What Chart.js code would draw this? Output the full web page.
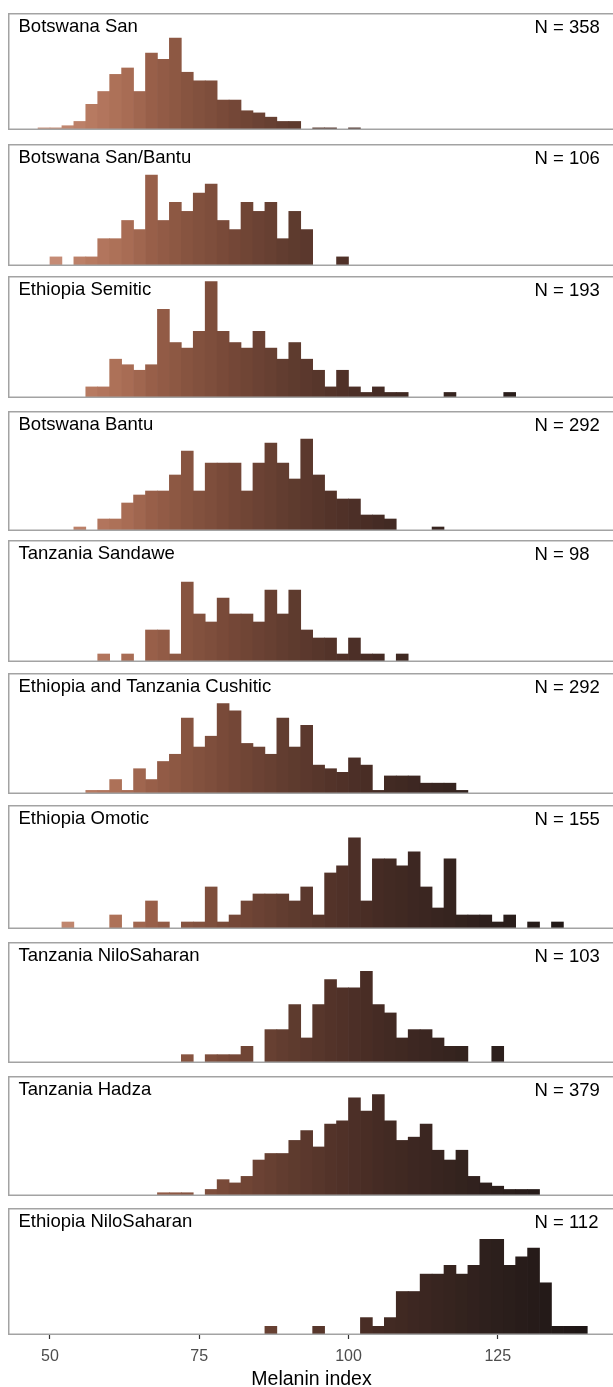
<!DOCTYPE html>
<html>
<head>
<meta charset="utf-8">
<script src="https://cdn.jsdelivr.net/npm/chart.js@4.4.1/dist/chart.umd.min.js"></script>
<style>
  html, body { margin: 0; padding: 0; background: #fff; width: 613px; height: 1387px; overflow: hidden; }
  #fig { position: relative; width: 613px; height: 1387px; overflow: hidden; }
  #fig canvas { position: absolute; left: 8px; }
  .lab {
    position: absolute; white-space: nowrap; color: #000;
    font-family: "Liberation Sans", Arial, sans-serif; font-size: 18.5px; line-height: 1;
  }
</style>
</head>
<body>
<div id="fig"></div>
<script>
// histogram bins (lower edge, width 2)
const binStart = [48, 50, 52, 54, 56, 58, 60, 62, 64, 66,
                  68, 70, 72, 74, 76, 78, 80, 82, 84, 86,
                  88, 90, 92, 94, 96, 98, 100, 102, 104, 106,
                  108, 110, 112, 114, 116, 118, 120, 122, 124, 126,
                  128, 130, 132, 134, 136, 138];

const groups = ['Botswana San', 'Botswana San/Bantu', 'Ethiopia Semitic', 'Botswana Bantu',
                'Tanzania Sandawe', 'Ethiopia and Tanzania Cushitic', 'Ethiopia Omotic',
                'Tanzania NiloSaharan', 'Tanzania Hadza', 'Ethiopia NiloSaharan'];
const sampleSizes = [358, 106, 193, 292, 98, 292, 155, 103, 379, 112];

const botswanaSan = [1, 1, 2, 4, 12, 18, 26, 29, 18, 36,
                     33, 43, 27, 23, 23, 14, 14, 9, 8, 6,
                     4, 4, 0, 1, 1, 0, 1, 0, 0, 0,
                     0, 0, 0, 0, 0, 0, 0, 0, 0, 0,
                     0, 0, 0, 0, 0, 0];
const botswanaSanBantu = [0, 1, 0, 1, 1, 3, 3, 5, 4, 10,
                          5, 7, 6, 8, 9, 5, 4, 7, 6, 7,
                          3, 6, 4, 0, 0, 1, 0, 0, 0, 0,
                          0, 0, 0, 0, 0, 0, 0, 0, 0, 0,
                          0, 0, 0, 0, 0, 0];
const ethiopiaSemitic = [0, 0, 0, 0, 2, 2, 7, 6, 5, 6,
                         16, 10, 9, 12, 21, 12, 10, 9, 12, 9,
                         7, 10, 7, 5, 2, 5, 2, 1, 2, 1,
                         1, 0, 0, 0, 1, 0, 0, 0, 0, 1,
                         0, 0, 0, 0, 0, 0];
const botswanaBantu = [0, 0, 0, 1, 0, 3, 3, 7, 9, 10,
                       10, 14, 20, 10, 17, 17, 17, 10, 17, 22,
                       17, 13, 23, 14, 10, 8, 8, 4, 4, 3,
                       0, 0, 0, 1, 0, 0, 0, 0, 0, 0,
                       0, 0, 0, 0, 0, 0];
const tanzaniaSandawe = [0, 0, 0, 0, 0, 1, 0, 1, 0, 4,
                         4, 1, 10, 6, 5, 8, 6, 6, 5, 9,
                         6, 9, 4, 3, 3, 1, 3, 1, 1, 0,
                         1, 0, 0, 0, 0, 0, 0, 0, 0, 0,
                         0, 0, 0, 0, 0, 0];
const cushitic = [0, 0, 0, 0, 1, 1, 4, 1, 7, 4,
                  9, 11, 21, 13, 16, 25, 23, 14, 13, 11,
                  21, 13, 19, 8, 7, 6, 10, 8, 1, 5,
                  5, 5, 3, 3, 3, 1, 0, 0, 0, 0,
                  0, 0, 0, 0, 0, 0];
const ethiopiaOmotic = [0, 0, 1, 0, 0, 0, 2, 0, 1, 4,
                        1, 0, 1, 1, 6, 1, 2, 4, 5, 5,
                        5, 4, 6, 2, 8, 9, 13, 4, 10, 10,
                        9, 11, 6, 3, 10, 2, 2, 2, 1, 2,
                        0, 1, 0, 1, 0, 0];
const tanzaniaNilo = [0, 0, 0, 0, 0, 0, 0, 0, 0, 0,
                      0, 0, 1, 0, 1, 1, 1, 2, 0, 4,
                      4, 7, 3, 7, 10, 9, 9, 11, 7, 6,
                      3, 4, 4, 3, 2, 2, 0, 0, 2, 0,
                      0, 0, 0, 0, 0, 0];
const tanzaniaHadza = [0, 0, 0, 0, 0, 0, 0, 0, 0, 0,
                       1, 1, 1, 0, 2, 5, 4, 6, 11, 13,
                       13, 17, 20, 15, 22, 23, 30, 26, 31, 23,
                       17, 18, 22, 14, 11, 14, 6, 4, 3, 2,
                       2, 2, 0, 0, 0, 0];
const ethiopiaNilo = [0, 0, 0, 0, 0, 0, 0, 0, 0, 0,
                      0, 0, 0, 0, 0, 0, 0, 0, 0, 1,
                      0, 0, 0, 1, 0, 0, 0, 2, 1, 2,
                      5, 5, 7, 7, 8, 7, 8, 11, 11, 8,
                      9, 10, 6, 1, 1, 1];

const panelCounts = [botswanaSan, botswanaSanBantu, ethiopiaSemitic, botswanaBantu, tanzaniaSandawe,
                     cushitic, ethiopiaOmotic, tanzaniaNilo, tanzaniaHadza, ethiopiaNilo];

// count axis upper limit of each panel (free y scales)
const yMaxCounts = [54.7, 13.4, 22, 30, 15.25, 33.5, 17.7, 14.5, 36.7, 14.6];
const xTicks = [50, 75, 100, 125];
const xMin = 42.97, xMax = 144.64;

// layout
const panelTop = [13, 144, 276, 411, 540, 673, 805, 942, 1076, 1208];
const panelBottom = [130, 266, 398, 531, 662, 794, 929, 1063, 1196, 1335];
const panelWidth = 607;
const axisHeight = 52;
const fontFamily = '"Liberation Sans", Arial, sans-serif';

// fill ramp along melanin index
const rampStops = [
  [49, '#c9917b'], [57, '#b77a61'], [63, '#a86c54'], [67, '#985f49'], [73, '#875440'],
  [81, '#744737'], [89, '#623d30'], [97, '#533329'], [105, '#452b24'], [115, '#382520'],
  [125, '#2c1f1c'], [139, '#1e1615']
];

function hexRgb(h) {
  return [parseInt(h.slice(1, 3), 16), parseInt(h.slice(3, 5), 16), parseInt(h.slice(5, 7), 16)];
}

function colorAt(v) {
  if (v <= rampStops[0][0]) return rampStops[0][1];
  for (let i = 1; i < rampStops.length; i++) {
    if (v <= rampStops[i][0]) {
      const [v0, c0] = rampStops[i - 1];
      const [v1, c1] = rampStops[i];
      const t = (v - v0) / (v1 - v0);
      const a = hexRgb(c0), b = hexRgb(c1);
      const rgb = a.map((x, k) => Math.round(x + (b[k] - x) * t));
      return `rgb(${rgb[0]},${rgb[1]},${rgb[2]})`;
    }
  }
  return rampStops[rampStops.length - 1][1];
}

const panelBorder = {
  id: 'panelBorder',
  afterDraw(chart) {
    const { ctx, chartArea: a } = chart;
    ctx.save();
    ctx.strokeStyle = '#a3a3a3';
    ctx.lineWidth = 1.5;
    ctx.strokeRect(a.left + 0.75, a.top + 0.75, a.right - a.left - 1.5, a.bottom - a.top - 1.5);
    ctx.restore();
  }
};

const fig = document.getElementById('fig');

groups.forEach((name, i) => {
  const isLast = i === groups.length - 1;
  const h = panelBottom[i] - panelTop[i];

  const canvas = document.createElement('canvas');
  canvas.width = panelWidth;
  canvas.height = h + (isLast ? axisHeight : 0);
  canvas.style.top = panelTop[i] + 'px';
  fig.appendChild(canvas);

  new Chart(canvas.getContext('2d'), {
    type: 'bar',
    data: {
      datasets: [{
        data: binStart.map((s, k) => ({ x: s + 1, y: panelCounts[i][k] })),
        backgroundColor: (c) => colorAt(binStart[c.dataIndex] + 1),
        borderWidth: 0,
        barPercentage: 1,
        categoryPercentage: 1
      }]
    },
    options: {
      responsive: false,
      animation: false,
      events: [],
      layout: { padding: 0 },
      plugins: { legend: { display: false }, tooltip: { enabled: false } },
      scales: {
        x: {
          type: 'linear', min: xMin, max: xMax, offset: false,
          display: isLast,
          border: { display: false },
          grid: { offset: false, drawOnChartArea: false, drawTicks: true, tickLength: 4, tickWidth: 1.2, tickColor: '#333333' },
          ticks: { color: '#4d4d4d', font: { family: fontFamily, size: 16 }, padding: 7.5, maxRotation: 0, autoSkip: false },
          afterBuildTicks: (s) => { s.ticks = xTicks.map(v => ({ value: v })); },
          afterFit: (s) => { if (isLast) s.height = axisHeight; },
          title: {
            display: isLast, text: 'Melanin index', color: '#000',
            font: { family: fontFamily, size: 19.5, lineHeight: 1 },
            padding: { top: 0, bottom: -2 }
          }
        },
        y: { display: false, min: 0, max: yMaxCounts[i] }
      }
    },
    plugins: [panelBorder]
  });

  const title = document.createElement('div');
  title.className = 'lab';
  title.textContent = name;
  title.style.left = '18.5px';
  title.style.top = (panelTop[i] + 3.5) + 'px';
  fig.appendChild(title);

  const n = document.createElement('div');
  n.className = 'lab';
  n.textContent = 'N = ' + sampleSizes[i];
  n.style.left = '534.5px';
  n.style.top = (panelTop[i] + 4.8) + 'px';
  fig.appendChild(n);
});
</script>
</body>
</html>
